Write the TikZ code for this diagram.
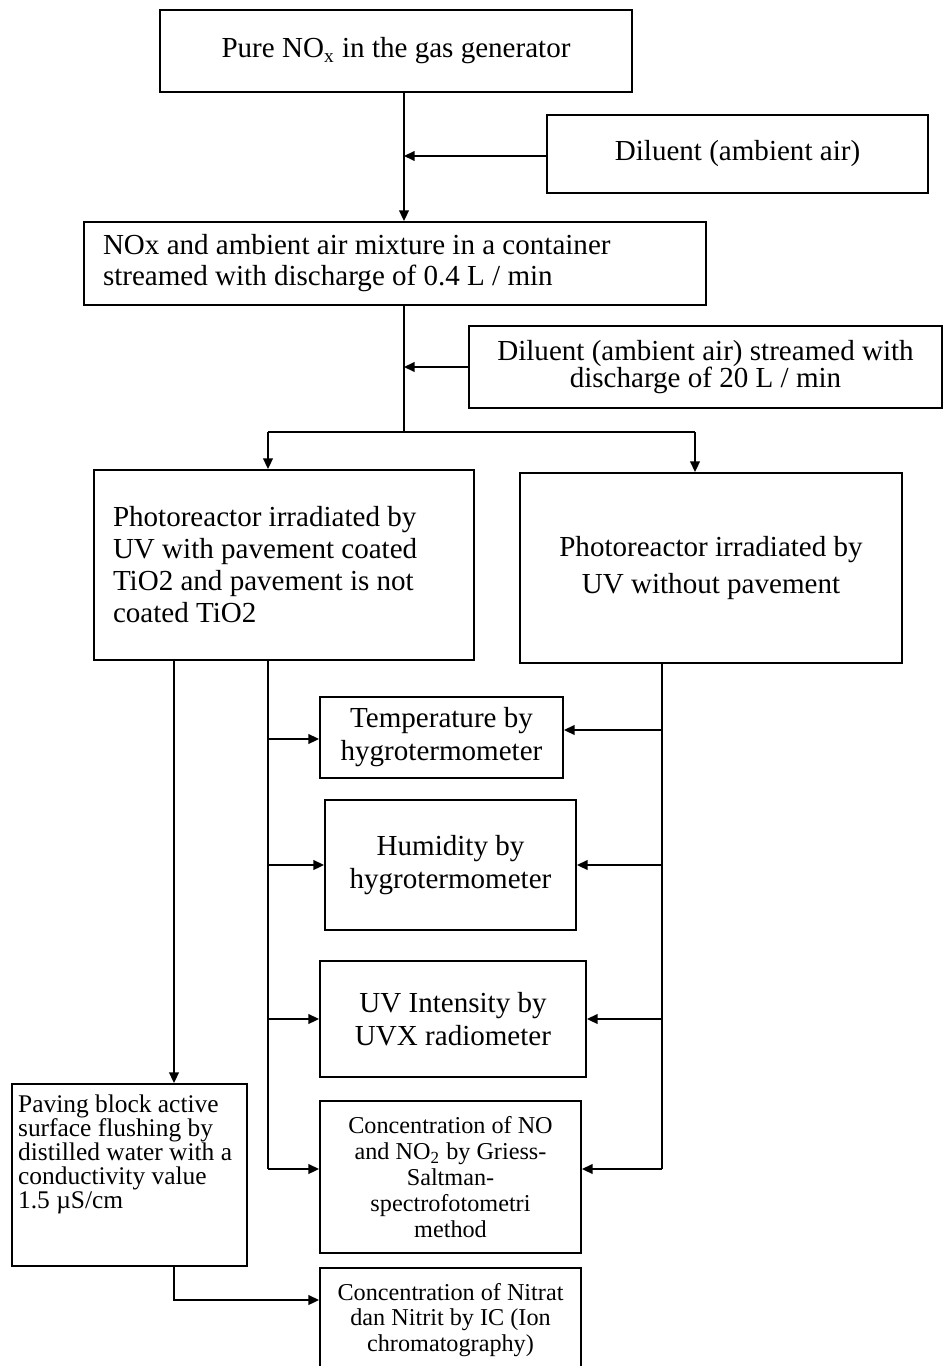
\documentclass[tikz,border=0pt]{standalone}
\usepackage{fontspec}
\setmainfont{Liberation Serif}
\usetikzlibrary{arrows.meta}
\def\pxl{0.413pt}

\begin{document}
\begin{tikzpicture}[x=0.413pt, y=-0.413pt,
  box/.style={draw, line width=0.8pt, inner sep=0pt, align=center,
    font={\fontsize{12}{13.6}\selectfont}},
  ln/.style={line width=0.8pt},
  arr/.style={line width=0.8pt, -{Triangle[length=4.4pt,width=4pt]}}]
  % \draw[help lines] (0,0) grid[step=100] (944,1366);
  \useasboundingbox (0,0) rectangle (944,1366);

  % gas supply
  \node[box, minimum width=472*\pxl, minimum height=82*\pxl] (gen) at (396,51)
    {Pure NO\textsubscript{x} in the gas generator};
  \node[box, minimum width=381*\pxl, minimum height=78*\pxl] (dil) at (737.5,154)
    {Diluent (ambient air)};
  \node[box, align=flush left, text width=584*\pxl, minimum width=622*\pxl, minimum height=83*\pxl,
    font={\fontsize{12}{12.8}\selectfont}] (mix) at (395,263.5)
    {NOx and ambient air mixture in a container\\streamed with discharge of 0.4 L / min};
  \node[box, minimum width=473*\pxl, minimum height=82*\pxl,
    font={\fontsize{12}{11.2}\selectfont}] (dil2) at (705.5,367)
    {Diluent (ambient air) streamed with\\discharge of 20 L / min};

  % photoreactors
  \node[box, align=flush left, text width=342*\pxl, minimum width=380*\pxl, minimum height=190*\pxl,
    font={\fontsize{12}{13.2}\selectfont}] (pr1) at (284,565)
    {Photoreactor irradiated by\\UV with pavement coated\\TiO2 and pavement is not\\coated TiO2};
  \node[box, minimum width=382*\pxl, minimum height=190*\pxl,
    font={\fontsize{12}{15.3}\selectfont}] (pr2) at (711,568)
    {Photoreactor irradiated by\\UV without pavement};

  % measurements
  \node[box, minimum width=243*\pxl, minimum height=81*\pxl] (temp) at (441.5,737.5)
    {Temperature by\\hygrotermometer};
  \node[box, minimum width=251*\pxl, minimum height=130*\pxl,
    font={\fontsize{12}{14}\selectfont}] (hum) at (450.5,865)
    {Humidity by\\hygrotermometer};
  \node[box, minimum width=266*\pxl, minimum height=116*\pxl] (uv) at (453,1019)
    {UV Intensity by\\UVX radiometer};
  \node[box, minimum width=261*\pxl, minimum height=152*\pxl,
    font={\fontsize{10}{10.7}\selectfont}] (conc) at (450.5,1177)
    {Concentration of NO\\and NO\textsubscript{2} by Griess-\\Saltman-\\spectrofotometri\\method};
  \node[box, align=left, minimum width=235*\pxl, minimum height=182*\pxl,
    font={\fontsize{10.5}{9.9}\selectfont}] (pave) at (129.5,1175)
    {\parbox[c][66pt][t]{92pt}{\raggedright Paving block active\\surface flushing by\\distilled water with a\\conductivity value\\1.5 µS/cm}};
  \node[box, minimum width=261*\pxl, minimum height=104*\pxl,
    font={\fontsize{10}{10.7}\selectfont}] (ion) at (450.5,1320)
    {Concentration of Nitrat\\dan Nitrit by IC (Ion\\chromatography)};

  % junctions
  \coordinate (j1) at (404,156);
  \coordinate (split) at (404,432);
  \coordinate (s1) at (268,432);
  \coordinate (s2) at (695,432);
  \coordinate (c1) at (174,1300);
  \coordinate (c2) at (268,1169);
  \coordinate (c3) at (662,1169);
  \coordinate (t2) at (268,739);
  \coordinate (t3) at (662,730);

  \draw[arr] (gen.south -| j1) -- (mix.north -| j1);
  \draw[arr] (dil.west |- j1) -- (j1);
  \draw[ln] (mix.south -| split) -- (split);
  \draw[arr] (dil2.west) -- (dil2.west -| split);
  \draw[ln] (s1) -- (s2);
  \draw[arr] (s1) -- (s1 |- pr1.north);
  \draw[arr] (s2) -- (s2 |- pr2.north);

  % left side
  \draw[arr] (pr1.south -| c1) -- (pave.north -| c1);
  \draw[arr] (pave.south -| c1) -- (c1) -- (ion.west |- c1);
  \draw[ln] (pr1.south -| c2) -- (c2);
  \draw[arr] (t2) -- (t2 -| temp.west);
  \draw[arr] (c2 |- hum.west) -- (hum.west);
  \draw[arr] (c2 |- uv.west) -- (uv.west);
  \draw[arr] (c2) -- (c2 -| conc.west);

  % right side
  \draw[ln] (pr2.south -| c3) -- (c3);
  \draw[arr] (t3) -- (t3 -| temp.east);
  \draw[arr] (c3 |- hum.east) -- (hum.east);
  \draw[arr] (c3 |- uv.east) -- (uv.east);
  \draw[arr] (c3) -- (c3 -| conc.east);
\end{tikzpicture}
\end{document}
